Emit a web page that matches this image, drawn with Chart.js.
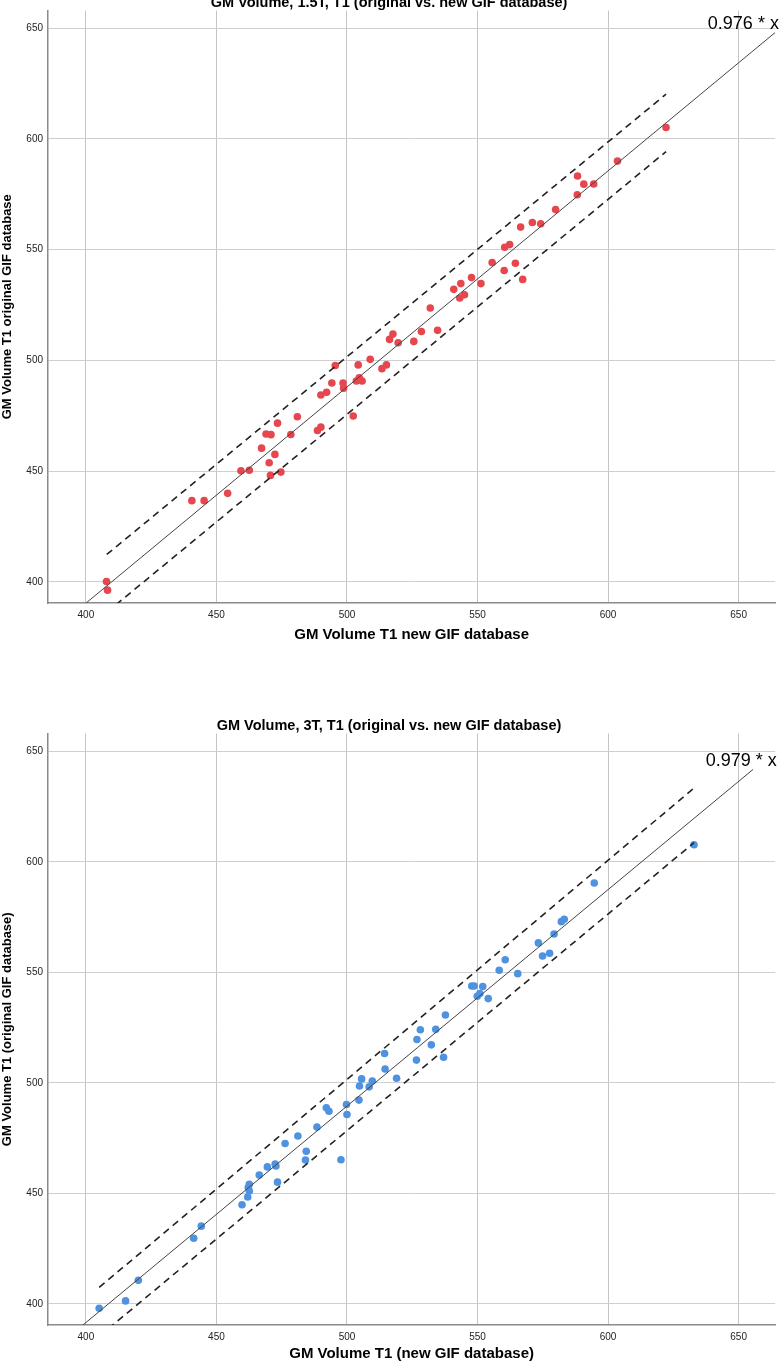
<!DOCTYPE html>
<html><head><meta charset="utf-8">
<script src="https://cdn.jsdelivr.net/npm/chart.js@4.4.1/dist/chart.umd.min.js"></script>
<style>
html,body{margin:0;padding:0;background:#fff;overflow:hidden;width:779px;height:1365px;}
.box{position:absolute;left:0;width:779px;}
#b1{top:-8px;height:654px;}
#b2{top:715px;height:650px;}
</style></head><body>
<div class="box" id="b1"><canvas id="c1"></canvas></div>
<div class="box" id="b2"><canvas id="c2"></canvas></div>
<script>
// ---------- data ----------
const topTitle = "GM Volume, 1.5T, T1 (original vs. new GIF database)";
const bottomTitle = "GM Volume, 3T, T1 (original vs. new GIF database)";
const topXTitle = "GM Volume T1 new GIF database";
const topYTitle = "GM Volume T1 original GIF database";
const bottomXTitle = "GM Volume T1 (new GIF database)";
const bottomYTitle = "GM Volume T1 (original GIF database)";
const topEquation = "0.976 * x";
const bottomEquation = "0.979 * x";
const topSlope = 0.976;
const bottomSlope = 0.979;
const axisTicks = [400, 450, 500, 550, 600, 650];

const topNewX = [407.9,408.3,440.6,445.3,454.3,459.4,462.6,470.7,474.7,470.2,472.4,467.3,469.0,470.9,473.4,478.5,481.0,488.7,490.0,490.0,492.2,494.2,495.5,498.5,498.7,502.4,504.3,503.6,504.7,505.8,508.9,513.4,515.1,516.3,517.6,519.6,525.6,528.5,534.7,531.9,540.9,543.6,543.2,545.0,547.7,551.3,555.6,560.2,564.5,567.3,560.4,562.3,566.5,571.0,574.2,579.9,588.2,588.3,590.7,594.5,603.6,622.2];
const topOrigY = [400.2,396.3,436.7,436.7,440.0,450.2,450.4,448.1,449.6,453.8,457.6,460.4,466.8,466.5,471.7,466.6,474.6,468.4,469.9,484.4,485.6,489.8,497.7,489.8,487.5,474.9,498.0,490.7,492.2,490.7,500.5,496.3,498.0,509.5,511.9,508.0,508.6,513.1,513.6,523.7,532.1,534.7,528.2,529.7,537.4,534.7,544.2,540.6,543.9,536.6,551.1,552.3,560.2,562.3,561.7,568.1,574.8,583.3,579.6,579.7,590.0,605.2];

const bottomNewX = [405.1,415.2,420.1,441.3,444.2,459.8,462.0,462.6,462.2,462.6,466.4,469.5,472.5,472.8,473.4,476.3,481.2,484.4,484.1,488.5,492.1,493.1,497.7,499.8,500.0,504.6,504.8,505.6,508.5,509.7,519.0,514.6,514.4,526.6,526.8,528.1,532.3,534.0,537.0,537.7,547.8,548.7,552.0,549.9,550.9,554.1,558.3,560.6,565.4,573.3,574.9,577.6,579.3,582.1,583.2,594.7,632.9];
const bottomOrigY = [398.1,401.4,410.7,429.7,435.2,444.9,448.4,451.1,452.7,454.1,458.3,462.0,463.3,462.4,455.1,472.6,476.0,469.1,465.1,480.0,488.7,487.2,465.2,490.2,485.7,492.2,498.6,501.8,498.2,500.8,502.1,506.3,513.3,510.3,519.6,524.0,517.2,524.2,511.6,530.7,543.8,543.8,543.6,539.2,540.4,538.1,550.9,555.7,549.4,563.3,557.4,558.6,567.3,572.9,574.0,590.4,607.7];

// fit line x extent and prediction band end points
const topFitX = [390, 664];
const bottomFitX = [390, 655.5];
const topUpperX = [408, 622.2], topUpperY = [412.4, 620.2];
const topLowerX = [408, 622.2], topLowerY = [386.3, 594.3];
const bottomUpperX = [405.1, 632.9], bottomUpperY = [407.5, 633.3];
const bottomLowerX = [405.1, 632.9], bottomLowerY = [385.4, 608.6];

// ---------- helpers ----------
const zip = (xs, ys) => xs.map((x, i) => ({x: x, y: ys[i]}));
const FONT = '"Liberation Sans", Arial, sans-serif';

const eqPlugin = {
  id: 'eqLabel',
  afterDatasetsDraw(chart, args, opts) {
    const {ctx, scales} = chart;
    ctx.save();
    ctx.font = '18px ' + FONT;
    ctx.fillStyle = '#000';
    ctx.textAlign = 'left';
    ctx.textBaseline = 'middle';
    ctx.fillText(opts.text, scales.x.getPixelForValue(opts.x), scales.y.getPixelForValue(opts.y));
    ctx.restore();
  }
};

function makeChart(id, cfg) {
  const lineDs = (xs, ys, dash, width, color) => ({
    type: 'scatter', data: zip(xs, ys), showLine: true, pointRadius: 0,
    borderColor: color, borderWidth: width, borderDash: dash, fill: false
  });
  return new Chart(document.getElementById(id), {
    type: 'scatter',
    data: {
      datasets: [
        lineDs(cfg.fitX, cfg.fitX.map(v => v * cfg.slope), [], 1, '#444'),
        lineDs(cfg.upX, cfg.upY, [7, 5], 1.6, '#222'),
        lineDs(cfg.loX, cfg.loY, [7, 5], 1.6, '#222'),
        {
          data: zip(cfg.xs, cfg.ys), pointRadius: 3.8, pointHoverRadius: 3.8,
          backgroundColor: cfg.color, borderWidth: 0, pointStyle: 'circle'
        }
      ]
    },
    options: {
      responsive: true, maintainAspectRatio: false, animation: false, devicePixelRatio: 1,
      layout: {padding: {left: 0, right: 1, top: 0, bottom: 0}},
      plugins: {
        legend: {display: false},
        tooltip: {enabled: false},
        title: {display: true, text: cfg.title, color: '#000',
          font: {family: FONT, size: 14.5, weight: 'bold', lineHeight: 1},
          padding: {top: 4, bottom: 0}},
        eqLabel: {text: cfg.eq, x: cfg.eqX, y: cfg.eqY}
      },
      scales: {
        x: {
          type: 'linear', min: 385.5, max: 664,
          afterFit: s => { s.height = cfg.xh; },
          afterBuildTicks: s => { s.ticks = axisTicks.map(v => ({value: v})); },
          ticks: {stepSize: 50, includeBounds: false, color: '#222', padding: 6,
            font: {family: FONT, size: 10}},
          grid: {color: '#c4c4c4', drawTicks: false, lineWidth: 1},
          border: {display: true, color: '#8a8a8a', width: 1.5},
          title: {display: true, text: cfg.xTitle, color: '#000',
            font: {family: FONT, size: 15, weight: 'bold', lineHeight: 1.2},
            padding: {top: 0, bottom: 2}}
        },
        y: {
          type: 'linear', min: 390.5, max: 658,
          afterFit: s => { s.width = 48; },
          afterBuildTicks: s => { s.ticks = axisTicks.map(v => ({value: v})); },
          ticks: {stepSize: 50, includeBounds: false, color: '#222', padding: 5,
            font: {family: FONT, size: 10}},
          grid: {color: '#cfcfcf', drawTicks: false, lineWidth: 1},
          border: {display: true, color: '#8a8a8a', width: 1.5},
          title: {display: true, text: cfg.yTitle, color: '#000',
            font: {family: FONT, size: 13, weight: 'bold', lineHeight: 1.2},
            padding: {top: 0, bottom: 0}}
        }
      }
    },
    plugins: [eqPlugin]
  });
}

makeChart('c1', {
  title: topTitle, xTitle: topXTitle, yTitle: topYTitle, eq: topEquation,
  eqX: 638.2, eqY: 652.1, slope: topSlope, fitX: topFitX,
  upX: topUpperX, upY: topUpperY, loX: topLowerX, loY: topLowerY,
  xs: topNewX, ys: topOrigY, color: '#e6474e', xh: 43
});
makeChart('c2', {
  title: bottomTitle, xTitle: bottomXTitle, yTitle: bottomYTitle, eq: bottomEquation,
  eqX: 637.4, eqY: 645.4, slope: bottomSlope, fitX: bottomFitX,
  upX: bottomUpperX, upY: bottomUpperY, loX: bottomLowerX, loY: bottomLowerY,
  xs: bottomNewX, ys: bottomOrigY, color: '#4f93e0', xh: 40
});
</script>
</body></html>
